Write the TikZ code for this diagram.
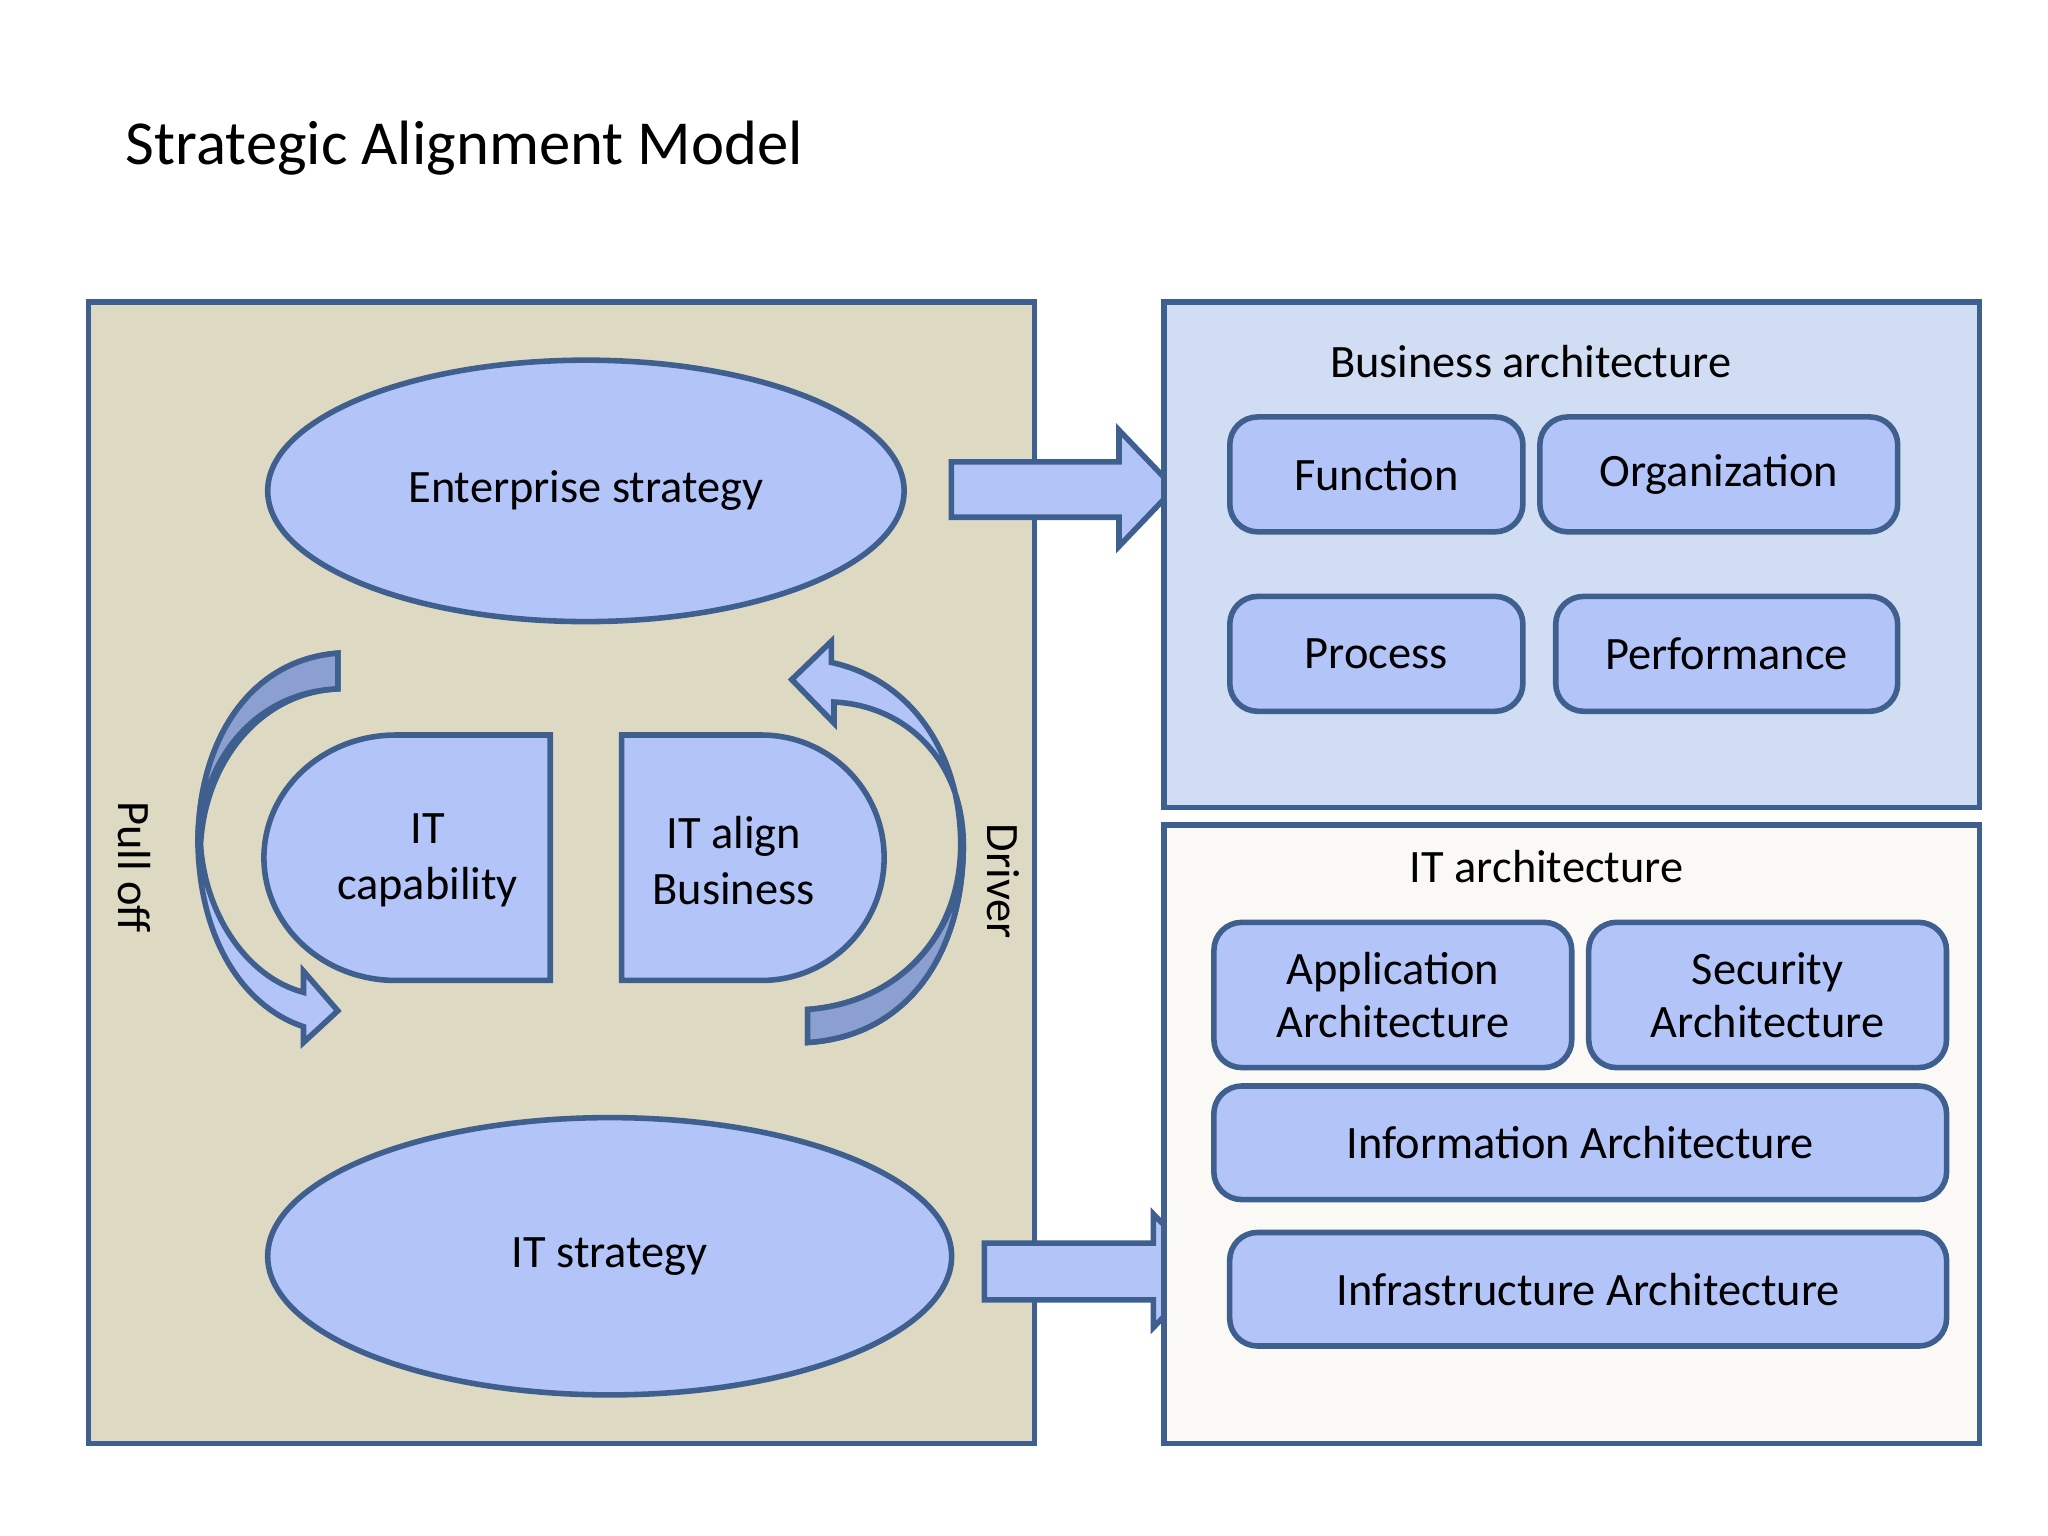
\documentclass[tikz,border=0pt]{standalone}
\usepackage{fontspec}
\setmainfont{Carlito}
\usetikzlibrary{shapes.geometric}
\definecolor{edge}{HTML}{3F5F8F}
\definecolor{shape}{HTML}{B3C4F9}
\definecolor{shade}{HTML}{8B9FD0}
\definecolor{sand}{HTML}{DDD9C3}
\definecolor{sky}{HTML}{D0DDF2}
\definecolor{paper}{HTML}{FBF9F5}
\tikzset{
  panel/.style={draw=edge, line width=1.2pt},
  box/.style={draw=edge, fill=shape, line width=1.2pt, rounded corners=6pt, align=center, font=\fontsize{10}{11.5}\selectfont},
  oval/.style={ellipse, draw=edge, fill=shape, line width=1.2pt, inner sep=0pt, font=\fontsize{10}{12}\selectfont},
  lbl/.style={font=\fontsize{10}{12}\selectfont},
  band/.style={draw=edge, fill=shape, line width=1.2pt, line join=miter},
  dark/.style={draw=edge, fill=shade, line width=1.2pt}
}
\begin{document}
\begin{tikzpicture}[x=0.01cm, y=-0.01cm]
\useasboundingbox (0,0) rectangle (1552,1164);
\node[anchor=base west, font=\fontsize{13.5}{16}\selectfont] (title) at (83,125) {Strategic Alignment Model};

% left panel
\draw[panel, fill=sand] (67,229) rectangle (784,1094);
\node[oval, minimum width=482\pgflinewidth*0+4.82cm, minimum height=1.98cm] (ent) at (444,372) {Enterprise strategy};
\node[oval, minimum width=5.18cm, minimum height=2.10cm] (its) at (462,952) {IT strategy};

\draw[band] (417,557) -- (300,557) arc[start angle=90, end angle=270, x radius=100, y radius=-93] -- (417,743) -- cycle;
\node[lbl, align=center] (cap) at (324,652) {IT\\capability};
\draw[band] (471,557) -- (577,557) arc[start angle=90, end angle=-90, x radius=93, y radius=-93] -- (471,743) -- cycle;
\node[lbl, align=center] (aln) at (556,652) {IT align\\Business};

\node[lbl, rotate=-90] (pull) at (102,657) {Pull off};
\node[lbl, rotate=-90] (drv) at (760,668) {Driver};

% curved arrows
\draw[band] (256,495) .. controls (190,500) and (150,560) .. (150,640)
  .. controls (152,720) and (190,765) .. (230,778) -- (230,790) -- (256,766) -- (230,736) -- (230,752)
  .. controls (185,740) and (155,690) .. (152,640) .. controls (155,580) and (195,525) .. (256,522) -- cycle;
\draw[dark] (256,495) .. controls (190,500) and (150,560) .. (150,640) .. controls (152,580) and (190,525) .. (256,522) -- cycle;
\draw[band] (612,790) .. controls (690,785) and (730,720) .. (730,640)
  .. controls (730,580) and (690,535) .. (632,532) -- (632,548) -- (600,515) -- (630,486) -- (630,502)
  .. controls (690,515) and (728,570) .. (728,640) .. controls (728,710) and (680,760) .. (612,765) -- cycle;
\draw[dark] (612,790) .. controls (690,785) and (730,720) .. (730,640) .. controls (728,710) and (680,760) .. (612,765) -- cycle;

% block arrows
\draw[band] (721,350) -- (848,350) -- (848,326) -- (890,370) -- (848,414) -- (848,392) -- (721,392) -- cycle;
\draw[band] (746,942) -- (874,942) -- (874,920) -- (916,963) -- (874,1006) -- (874,985) -- (746,985) -- cycle;

% business architecture
\draw[panel, fill=sky] (882,229) rectangle (1500,612);
\node[lbl] (ba) at (1160,274) {Business architecture};
\node[box, minimum width=2.22cm, minimum height=0.87cm] (fun) at (1043,359.5) {Function};
\node[box, minimum width=2.71cm, minimum height=0.87cm] (org) at (1302.5,359.5) {Organization};
\node[box, minimum width=2.22cm, minimum height=0.87cm] (pro) at (1043,495.5) {Process};
\node[box, minimum width=2.59cm, minimum height=0.87cm] (per) at (1308.5,495.5) {Performance};

% IT architecture
\draw[panel, fill=paper] (882,625) rectangle (1500,1094);
\node[lbl] (ita) at (1172,657) {IT architecture};
\node[box, minimum width=2.71cm, minimum height=1.10cm] (app) at (1055.5,754) {Application\\Architecture};
\node[box, minimum width=2.71cm, minimum height=1.10cm] (sec) at (1339.5,754) {Security\\Architecture};
\node[box, minimum width=5.55cm, minimum height=0.86cm] (inf) at (1197.5,866) {Information Architecture};
\node[box, minimum width=5.43cm, minimum height=0.86cm] (ifr) at (1203.5,977) {Infrastructure Architecture};
\end{tikzpicture}
\end{document}
